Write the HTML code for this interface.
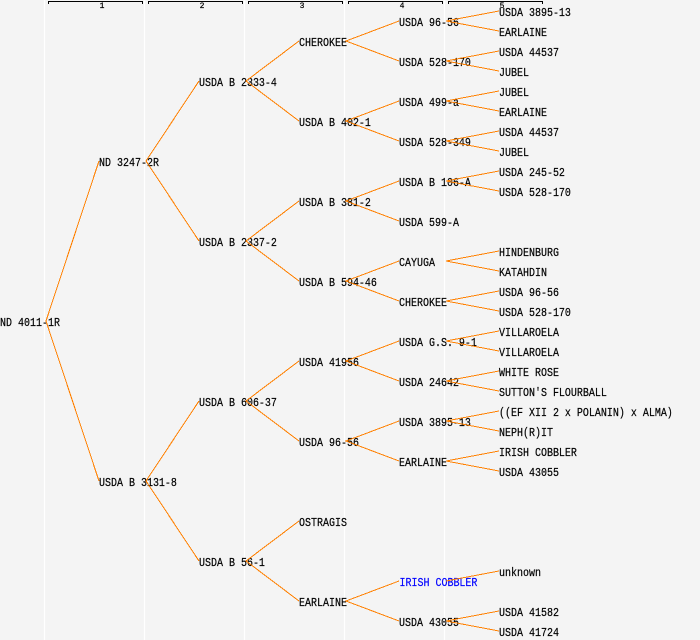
<!DOCTYPE html>
<html><head><meta charset="utf-8"><style>
html,body{margin:0;padding:0;background:#f4f4f4;width:700px;height:640px;overflow:hidden}
svg{display:block}
text{font-family:"Liberation Mono",monospace;font-size:12px;fill:#000;stroke:#000;stroke-width:.2;white-space:pre}
text.n{font-size:8px;text-anchor:middle}
text.b{fill:#00f;stroke:#00f}
.e{stroke:#ff8000;fill:none;stroke-width:1;shape-rendering:crispEdges}
.w{stroke:#fff;stroke-width:1.2}
.r{stroke:#000;fill:none;stroke-width:1;shape-rendering:crispEdges}
</style></head><body>
<svg width="700" height="640" viewBox="0 0 700 640" xmlns="http://www.w3.org/2000/svg">
<path class="w" d="M44.5 0V640M144.5 0V640M244.5 0V640M344.5 0V640M444.5 0V640"/>
<path class="r" d="M48.5 4V1.5H142.5V4M148.5 4V1.5H242.5V4M248.5 4V1.5H342.5V4M348.5 4V1.5H442.5V4M448.5 4V1.5H542.5V4"/>
<text class="n" x="102" y="8">1</text><text class="n" x="202" y="8">2</text><text class="n" x="302" y="8">3</text><text class="n" x="402" y="8">4</text><text class="n" x="502" y="8">5</text>

<text transform="matrix(.8333 0 0 1 0 326)">ND 4011-1R</text>
<text transform="matrix(.8333 0 0 1 99 166)">ND 3247-2R</text>
<text transform="matrix(.8333 0 0 1 99 486)">USDA B 3131-8</text>

<text transform="matrix(.8333 0 0 1 199 86)">USDA B 2333-4</text>
<text transform="matrix(.8333 0 0 1 199 246)">USDA B 2337-2</text>
<text transform="matrix(.8333 0 0 1 199 406)">USDA B 606-37</text>
<text transform="matrix(.8333 0 0 1 199 566)">USDA B 56-1</text>

<text transform="matrix(.8333 0 0 1 299 46)">CHEROKEE</text>
<text transform="matrix(.8333 0 0 1 299 126)">USDA B 402-1</text>
<text transform="matrix(.8333 0 0 1 299 206)">USDA B 381-2</text>
<text transform="matrix(.8333 0 0 1 299 286)">USDA B 594-46</text>
<text transform="matrix(.8333 0 0 1 299 366)">USDA 41956</text>
<text transform="matrix(.8333 0 0 1 299 446)">USDA 96-56</text>
<text transform="matrix(.8333 0 0 1 299 526)">OSTRAGIS</text>
<text transform="matrix(.8333 0 0 1 299 606)">EARLAINE</text>

<text transform="matrix(.8333 0 0 1 399 26)">USDA 96-56</text>
<text transform="matrix(.8333 0 0 1 399 66)">USDA 528-170</text>
<text transform="matrix(.8333 0 0 1 399 106)">USDA 499-a</text>
<text transform="matrix(.8333 0 0 1 399 146)">USDA 528-349</text>
<text transform="matrix(.8333 0 0 1 399 186)">USDA B 106-A</text>
<text transform="matrix(.8333 0 0 1 399 226)">USDA 599-A</text>
<text transform="matrix(.8333 0 0 1 399 266)">CAYUGA</text>
<text transform="matrix(.8333 0 0 1 399 306)">CHEROKEE</text>
<text transform="matrix(.8333 0 0 1 399 346)">USDA G.S. 9-1</text>
<text transform="matrix(.8333 0 0 1 399 386)">USDA 24642</text>
<text transform="matrix(.8333 0 0 1 399 426)">USDA 3895-13</text>
<text transform="matrix(.8333 0 0 1 399 466)">EARLAINE</text>
<text class="b" transform="matrix(.8333 0 0 1 399.5 586)">IRISH COBBLER</text>
<text transform="matrix(.8333 0 0 1 399 626)">USDA 43055</text>

<text transform="matrix(.8333 0 0 1 499 16)">USDA 3895-13</text>
<text transform="matrix(.8333 0 0 1 499 36)">EARLAINE</text>
<text transform="matrix(.8333 0 0 1 499 56)">USDA 44537</text>
<text transform="matrix(.8333 0 0 1 499 76)">JUBEL</text>
<text transform="matrix(.8333 0 0 1 499 96)">JUBEL</text>
<text transform="matrix(.8333 0 0 1 499 116)">EARLAINE</text>
<text transform="matrix(.8333 0 0 1 499 136)">USDA 44537</text>
<text transform="matrix(.8333 0 0 1 499 156)">JUBEL</text>
<text transform="matrix(.8333 0 0 1 499 176)">USDA 245-52</text>
<text transform="matrix(.8333 0 0 1 499 196)">USDA 528-170</text>
<text transform="matrix(.8333 0 0 1 499 256)">HINDENBURG</text>
<text transform="matrix(.8333 0 0 1 499 276)">KATAHDIN</text>
<text transform="matrix(.8333 0 0 1 499 296)">USDA 96-56</text>
<text transform="matrix(.8333 0 0 1 499 316)">USDA 528-170</text>
<text transform="matrix(.8333 0 0 1 499 336)">VILLAROELA</text>
<text transform="matrix(.8333 0 0 1 499 356)">VILLAROELA</text>
<text transform="matrix(.8333 0 0 1 499 376)">WHITE ROSE</text>
<text transform="matrix(.8333 0 0 1 499 396)">SUTTON'S FLOURBALL</text>
<text transform="matrix(.8333 0 0 1 499 416)">((EF XII 2 x POLANIN) x ALMA)</text>
<text transform="matrix(.8333 0 0 1 499 436)">NEPH(R)IT</text>
<text transform="matrix(.8333 0 0 1 499 456)">IRISH COBBLER</text>
<text transform="matrix(.8333 0 0 1 499 476)">USDA 43055</text>
<text transform="matrix(.8333 0 0 1 499 576)">unknown</text>
<text transform="matrix(.8333 0 0 1 499 616)">USDA 41582</text>
<text transform="matrix(.8333 0 0 1 499 636)">USDA 41724</text>

<path class="e" transform="translate(0,1)" d="M99 160L46 320L99 480
M199 80L146 160L199 240
M199 400L146 480L199 560
M299 40L246 80L299 120
M299 200L246 240L299 280
M299 360L246 400L299 440
M299 520L246 560L299 600
M399 20L346 40L399 60
M399 100L346 120L399 140
M399 180L346 200L399 220
M399 260L346 280L399 300
M399 340L346 360L399 380
M399 420L346 440L399 460
M399 580L346 600L399 620
M499 10L446 20L499 30
M499 50L446 60L499 70
M499 90L446 100L499 110
M499 130L446 140L499 150
M499 170L446 180L499 190
M499 250L446 260L499 270
M499 290L446 300L499 310
M499 330L446 340L499 350
M499 370L446 380L499 390
M499 410L446 420L499 430
M499 450L446 460L499 470
M499 570L446 580
M499 610L446 620L499 630"/>
</svg>
</body></html>
